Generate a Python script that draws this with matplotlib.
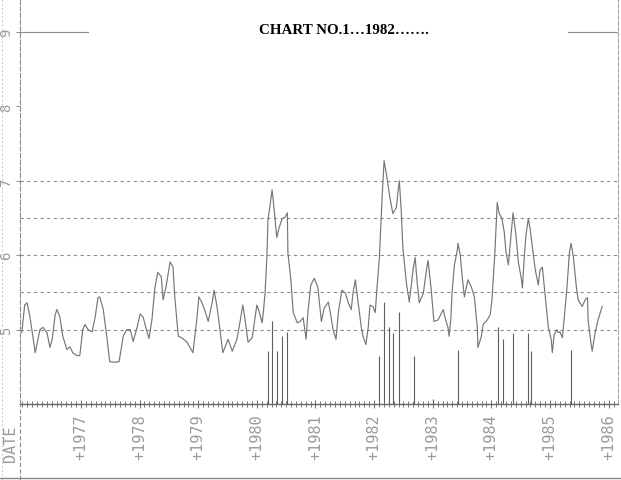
import matplotlib
matplotlib.use("Agg")
import numpy as np
import matplotlib.pyplot as plt
from matplotlib.lines import Line2D
from matplotlib.ticker import MultipleLocator

# series (decimal year, value)
years = [
    1975.99, 1976.04, 1976.08, 1976.13, 1976.22, 1976.30, 1976.35, 1976.42, 1976.47, 1976.51,
    1976.56, 1976.59, 1976.64, 1976.69, 1976.76, 1976.81, 1976.86, 1976.93, 1976.98, 1977.03,
    1977.07, 1977.12, 1977.19, 1977.24, 1977.29, 1977.32, 1977.38, 1977.44, 1977.49, 1977.58,
    1977.65, 1977.68, 1977.72, 1977.78, 1977.84, 1977.89, 1977.96, 1978.01, 1978.06, 1978.13,
    1978.16, 1978.21, 1978.26, 1978.31, 1978.37, 1978.40, 1978.45, 1978.52, 1978.57, 1978.60,
    1978.66, 1978.72, 1978.81, 1978.91, 1978.98, 1979.01, 1979.06, 1979.12, 1979.17, 1979.24,
    1979.27, 1979.32, 1979.37, 1979.42, 1979.51, 1979.58, 1979.66, 1979.71, 1979.76, 1979.80,
    1979.85, 1979.92, 1979.97, 1980.00, 1980.04, 1980.09, 1980.11, 1980.14, 1980.17, 1980.19,
    1980.24, 1980.26, 1980.28, 1980.31, 1980.34, 1980.38, 1980.43, 1980.48, 1980.52, 1980.53,
    1980.58, 1980.62, 1980.69, 1980.74, 1980.79, 1980.84, 1980.87, 1980.92, 1980.98, 1981.04,
    1981.10, 1981.15, 1981.22, 1981.25, 1981.30, 1981.35, 1981.39, 1981.45, 1981.51, 1981.56,
    1981.61, 1981.64, 1981.68, 1981.71, 1981.78, 1981.81, 1981.86, 1981.90, 1981.93, 1981.98,
    1982.02, 1982.05, 1982.09, 1982.14, 1982.17, 1982.22, 1982.27, 1982.32, 1982.38, 1982.41,
    1982.43, 1982.46, 1982.49, 1982.55, 1982.60, 1982.63, 1982.67, 1982.70, 1982.73, 1982.77,
    1982.84, 1982.90, 1982.92, 1982.97, 1983.02, 1983.09, 1983.18, 1983.21, 1983.26, 1983.28,
    1983.31, 1983.33, 1983.37, 1983.42, 1983.43, 1983.47, 1983.50, 1983.54, 1983.59, 1983.60,
    1983.66, 1983.71, 1983.76, 1983.77, 1983.83, 1983.86, 1983.93, 1983.98, 1984.01, 1984.06,
    1984.10, 1984.13, 1984.18, 1984.22, 1984.25, 1984.29, 1984.32, 1984.36, 1984.37, 1984.42,
    1984.46, 1984.51, 1984.53, 1984.56, 1984.59, 1984.63, 1984.66, 1984.71, 1984.75, 1984.80,
    1984.83, 1984.87, 1984.92, 1984.97, 1985.02, 1985.04, 1985.07, 1985.12, 1985.14, 1985.17,
    1985.21, 1985.24, 1985.29, 1985.33, 1985.36, 1985.40, 1985.45, 1985.48, 1985.55, 1985.60,
    1985.64, 1985.65, 1985.69, 1985.72, 1985.77, 1985.82, 1985.89,
]
values = [
    4.96, 5.33, 5.36, 5.17, 4.69, 5.00, 5.03, 4.96, 4.76, 4.87,
    5.20, 5.27, 5.17, 4.91, 4.73, 4.77, 4.69, 4.65, 4.65, 5.00,
    5.07, 5.00, 4.97, 5.16, 5.43, 5.44, 5.27, 4.91, 4.57, 4.56,
    4.57, 4.71, 4.91, 5.00, 5.00, 4.84, 5.04, 5.21, 5.17, 4.96,
    4.88, 5.13, 5.56, 5.77, 5.71, 5.40, 5.57, 5.91, 5.84, 5.44,
    4.91, 4.89, 4.83, 4.69, 5.17, 5.44, 5.37, 5.24, 5.11, 5.37,
    5.53, 5.31, 5.00, 4.69, 4.87, 4.71, 4.87, 5.09, 5.33, 5.13,
    4.83, 4.89, 5.17, 5.33, 5.24, 5.09, 5.23, 5.49, 5.96, 6.47,
    6.77, 6.88, 6.73, 6.49, 6.24, 6.37, 6.49, 6.51, 6.57, 6.03,
    5.67, 5.23, 5.09, 5.11, 5.16, 4.87, 5.23, 5.60, 5.69, 5.57,
    5.11, 5.29, 5.37, 5.24, 5.00, 4.87, 5.23, 5.53, 5.49, 5.36,
    5.27, 5.49, 5.67, 5.47, 5.04, 4.91, 4.80, 5.03, 5.33, 5.31,
    5.23, 5.57, 5.97, 6.83, 7.27, 7.04, 6.77, 6.56, 6.64, 6.87,
    7.00, 6.64, 6.11, 5.63, 5.37, 5.57, 5.84, 5.97, 5.67, 5.36,
    5.49, 5.84, 5.93, 5.57, 5.11, 5.13, 5.27, 5.16, 5.03, 4.91,
    5.16, 5.51, 5.87, 6.07, 6.16, 6.00, 5.73, 5.44, 5.63, 5.67,
    5.57, 5.44, 5.03, 4.76, 4.91, 5.07, 5.13, 5.20, 5.40, 6.04,
    6.71, 6.57, 6.49, 6.31, 6.04, 5.87, 6.13, 6.49, 6.57, 6.27,
    5.91, 5.69, 5.56, 5.96, 6.27, 6.49, 6.36, 6.04, 5.80, 5.60,
    5.80, 5.84, 5.44, 5.04, 4.87, 4.69, 4.93, 5.00, 4.96, 4.97,
    4.89, 5.13, 5.57, 6.03, 6.16, 5.97, 5.57, 5.40, 5.31, 5.40,
    5.43, 5.13, 4.87, 4.71, 4.96, 5.13, 5.31,
]

# vertical signal lines rising from the base line
spike_years = [1980.19, 1980.26, 1980.34, 1980.43, 1980.52,
               1982.09, 1982.17, 1982.26, 1982.32, 1982.43, 1982.68,
               1983.01, 1983.43,
               1984.12, 1984.20, 1984.37, 1984.63, 1984.68, 1985.36]
spike_tops = [4.71, 5.11, 4.71, 4.92, 4.97,
              4.64, 5.37, 5.04, 4.96, 5.23, 4.64,
              4.07, 4.73,
              5.04, 4.87, 4.96, 4.96, 4.71, 4.73]

tick_years = list(range(1977, 1987))
y_levels = [5, 6, 7, 8, 9]
grid_levels = [5.0, 5.5, 6.0, 6.5, 7.0]

GRID = "#8c8c8c"
INK = "#767676"
LABEL = "#9a9a9a"

fig = plt.figure(figsize=(6.21, 4.81), dpi=100)
ax = fig.add_axes([20 / 621, 76 / 481, 598 / 621, 405 / 481])
ax.set_xlim(1975.96, 1986.16)
ax.set_ylim(4, 9.444)

# dashed horizontal guide lines
for lv in grid_levels:
    ax.axhline(lv, color=GRID, lw=0.8, ls=(0, (3, 3)), zorder=1)
# the top line at 9 is broken by the title
ax.axhline(9, xmin=0, xmax=0.114, color=GRID, lw=0.8, zorder=1)
ax.axhline(9, xmin=0.916, xmax=1, color=GRID, lw=0.8, zorder=1)

ax.vlines(spike_years, 4, spike_tops, color="#5e5e5e", lw=0.8, zorder=2)
ax.plot(years, values, color=INK, lw=0.85, zorder=3)

# spines
ax.spines["top"].set_visible(False)
ax.spines["left"].set_color(GRID)
ax.spines["left"].set_linestyle((0, (4, 2)))
ax.spines["left"].set_linewidth(0.8)
ax.spines["right"].set_color("#a0a0a0")
ax.spines["right"].set_linestyle((0, (4, 2)))
ax.spines["right"].set_linewidth(0.7)
ax.spines["bottom"].set_color("#666666")
ax.spines["bottom"].set_linewidth(1.0)

# y ticks: rotated plotter digits
ax.set_yticks(y_levels)
ax.set_yticklabels([str(v) for v in y_levels], rotation=90, va="center",
                   family="DejaVu Sans Mono", fontsize=10, color=LABEL)
ax.tick_params(axis="y", length=3, width=0.7, color=GRID, pad=2)

# x ticks: yearly labels and monthly crosses
ax.set_xticks(tick_years)
ax.set_xticklabels(["+" + str(y) for y in tick_years], rotation=90,
                   family="DejaVu Sans Mono", fontsize=11, color=LABEL)
ax.xaxis.set_minor_locator(MultipleLocator(1 / 12))
ax.tick_params(axis="x", which="major", length=6, width=0.8, color="#777777",
               direction="inout", pad=4)
ax.tick_params(axis="x", which="minor", length=5, width=0.7, color="#777777",
               direction="inout")

fig.text(10 / 621, 1 - 444 / 481, "DATE", rotation=90, ha="center", va="center",
         family="DejaVu Sans Mono", fontsize=11, color=LABEL)

fig.text(344 / 621, 1 - 30 / 481, "CHART NO.1\u20261982\u2026\u2026.",
         ha="center", va="center", family="Liberation Serif",
         fontweight="bold", fontsize=10.8, color="black")

# left axis runs down through the label band, plus faint scan edges
fig.add_artist(Line2D([20 / 621, 20 / 621], [0, 76 / 481], transform=fig.transFigure,
                      color=GRID, lw=0.8, ls=(0, (4, 2))))
fig.add_artist(Line2D([2 / 621, 2 / 621], [0, 1], transform=fig.transFigure,
                      color="#b5b5b5", lw=0.6, ls=(0, (2, 3))))
fig.add_artist(Line2D([0, 1], [2 / 481, 2 / 481], transform=fig.transFigure,
                      color="#888888", lw=1.0))

fig.savefig("out.png", dpi=100)
